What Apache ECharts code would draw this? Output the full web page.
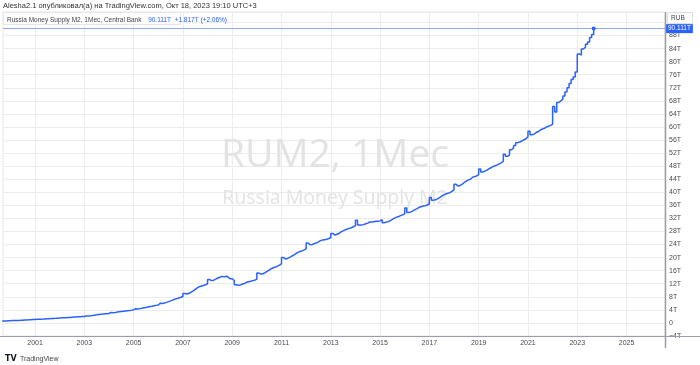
<!DOCTYPE html>
<html><head><meta charset="utf-8">
<script src="https://cdn.jsdelivr.net/npm/echarts@6/dist/echarts.min.js"></script>
<style>html,body{margin:0;padding:0;background:#fff}#c{width:700px;height:365px}</style>
</head><body><div id="c"></div>
<script>
// Russia Money Supply M2, trillion RUB, monthly (1st of month)
const startYear = 1999, startMonth = 8; // Sep 1999 (0-based month index)
const m2_1999 = [0.60, 0.62, 0.64, 0.66];
const m2_2000 = [0.715, 0.71, 0.74, 0.77, 0.80, 0.84, 0.89, 0.93, 0.96, 1.00, 1.03, 1.06];
const m2_2001 = [1.144, 1.12, 1.15, 1.18, 1.22, 1.26, 1.30, 1.34, 1.38, 1.40, 1.43, 1.47];
const m2_2002 = [1.613, 1.58, 1.62, 1.66, 1.70, 1.75, 1.80, 1.85, 1.88, 1.91, 1.95, 1.98];
const m2_2003 = [2.135, 2.11, 2.18, 2.26, 2.37, 2.48, 2.60, 2.67, 2.72, 2.78, 2.84, 2.90];
const m2_2004 = [3.213, 3.15, 3.23, 3.32, 3.42, 3.52, 3.60, 3.68, 3.75, 3.82, 3.90, 4.00];
const m2_2005 = [4.354, 4.28, 4.38, 4.48, 4.62, 4.75, 4.88, 5.00, 5.12, 5.25, 5.38, 5.50];
const m2_2006 = [6.045, 5.95, 6.10, 6.30, 6.52, 6.75, 7.00, 7.25, 7.45, 7.65, 7.85, 8.10];
const m2_2007 = [8.996, 8.85, 9.10, 9.40, 9.80, 10.30, 10.75, 11.10, 11.30, 11.45, 11.70, 12.00];
const m2_2008 = [13.272, 12.95, 13.10, 13.40, 13.75, 14.00, 14.25, 14.10, 14.30, 14.05, 13.50, 13.55];
const m2_2009 = [12.976, 11.70, 11.55, 11.65, 11.90, 12.10, 12.45, 12.60, 12.75, 12.95, 13.10, 13.40];
const m2_2010 = [15.268, 14.95, 15.05, 15.40, 15.80, 16.15, 16.60, 16.90, 17.10, 17.40, 17.70, 18.10];
const m2_2011 = [20.012, 19.60, 19.75, 20.10, 20.45, 20.80, 21.25, 21.60, 21.90, 22.05, 22.35, 22.70];
const m2_2012 = [24.483, 23.90, 24.00, 24.30, 24.50, 24.80, 25.20, 25.40, 25.50, 25.60, 25.85, 26.10];
const m2_2013 = [27.405, 26.90, 27.15, 27.40, 27.90, 28.20, 28.50, 28.75, 28.95, 29.15, 29.45, 29.80];
const m2_2014 = [31.405, 30.00, 29.95, 30.10, 30.35, 30.55, 30.90, 30.90, 31.00, 31.10, 31.10, 31.25];
const m2_2015 = [31.616, 30.65, 30.90, 31.00, 31.35, 31.70, 32.10, 32.40, 32.60, 32.85, 33.10, 33.50];
const m2_2016 = [35.179, 33.80, 34.00, 34.30, 34.70, 35.00, 35.40, 35.60, 35.80, 35.90, 36.10, 36.40];
const m2_2017 = [38.418, 37.60, 37.70, 38.00, 38.40, 38.80, 39.20, 39.50, 39.70, 39.90, 40.30, 40.80];
const m2_2018 = [42.442, 41.90, 42.10, 42.50, 43.00, 43.40, 43.80, 44.00, 44.60, 44.80, 45.00, 45.40];
const m2_2019 = [47.109, 46.20, 46.50, 46.80, 47.20, 47.50, 47.90, 48.10, 48.40, 48.70, 49.00, 49.50];
const m2_2020 = [51.660, 51.00, 51.40, 53.00, 53.60, 54.30, 55.20, 55.40, 55.70, 56.10, 56.40, 57.00];
const m2_2021 = [58.652, 57.60, 57.80, 58.30, 58.60, 59.00, 59.40, 59.60, 60.00, 60.20, 60.50, 60.80];
const m2_2022 = [66.253, 64.60, 67.50, 68.00, 68.50, 69.50, 70.70, 72.00, 73.30, 74.50, 75.30, 76.80];
const m2_2023 = [82.361, 82.00, 83.90, 84.40, 85.30, 86.00, 87.40, 88.294, 90.111];
const yearTicks = [2001, 2003, 2005, 2007, 2009, 2011, 2013, 2015, 2017, 2019, 2021, 2023, 2025];
const lastValue = 90.111, lastChange = 1.817, lastChangePct = 2.06;

const allYears = [m2_1999, m2_2000, m2_2001, m2_2002, m2_2003, m2_2004, m2_2005, m2_2006, m2_2007,
  m2_2008, m2_2009, m2_2010, m2_2011, m2_2012, m2_2013, m2_2014, m2_2015, m2_2016, m2_2017,
  m2_2018, m2_2019, m2_2020, m2_2021, m2_2022, m2_2023];
const data = [];
allYears.forEach((arr, yi) => {
  const y = startYear + yi;
  const m0 = yi === 0 ? startMonth : 0;
  arr.forEach((v, i) => data.push([y + (m0 + i) / 12, v]));
});
const last = data[data.length - 1];
data[data.length - 1] = { value: last, symbol: 'circle', symbolSize: 4 };

const small = '"Liberation Sans", Arial, sans-serif';
const chart = echarts.init(document.getElementById('c'), null, { renderer: 'canvas' });
chart.setOption({
  animation: false,
  backgroundColor: '#fff',
  grid: { left: 3, right: 35, top: 12, bottom: 29, show: true, borderColor: '#e6e6e6', borderWidth: 1 },
  xAxis: {
    type: 'value', min: 1999.70, max: 2026.56,
    axisLine: { show: false },
    axisTick: { show: false, customValues: yearTicks },
    axisLabel: { customValues: yearTicks, formatter: v => String(Math.round(v)), fontSize: 7, color: '#4a4a4a', margin: 4, fontFamily: small },
    splitLine: { show: true, lineStyle: { color: '#ececec', width: 1 } }
  },
  yAxis: {
    type: 'value', position: 'right', min: -4, max: 95.2, interval: 4,
    axisLine: { show: false },
    axisTick: { show: false },
    axisLabel: {
      showMaxLabel: false, fontSize: 7, color: '#4a4a4a', margin: 4, fontFamily: small,
      formatter: v => v === 0 ? '0' : (v < 0 ? '\u2212' + Math.abs(v) : v) + 'T'
    },
    splitLine: { show: true, lineStyle: { color: '#ececec', width: 1 } }
  },
  graphic: [
    { type: 'text', z: 1, x: 335, y: 136, style: { text: 'RUM2, 1Мес', align: 'center', fill: '#e3e3e3', font: '39px "Open Sans", sans-serif' } },
    { type: 'text', z: 1, x: 335, y: 188, style: { text: 'Russia Money Supply M2', align: 'center', fill: '#e3e3e3', font: '19.5px "Open Sans", sans-serif' } },
    { type: 'text', z: 10, left: 3, top: 2, style: { text: 'Alesha2.1 опубликовал(а) на TradingView.com, Окт 18, 2023 19:10 UTC+3', fill: '#333', font: '7.5px ' + small } },
    { type: 'rect', z: 10, shape: { x: 3.5, y: 12.5, width: 177, height: 12 }, style: { fill: '#fff', stroke: '#e6e6e6', lineWidth: 1 } },
    { type: 'text', z: 11, left: 7, top: 14.5, style: {
        text: '{a|Russia Money Supply M2, 1Мес, Central Bank}  {b|' + lastValue.toFixed(3) + 'T  +' + lastChange.toFixed(3) + 'T (+' + lastChangePct.toFixed(2) + '%)}',
        rich: { a: { fill: '#444', font: '6.5px ' + small }, b: { fill: '#2962ff', font: '6.5px ' + small } } } },
    { type: 'rect', z: 10, shape: { x: 667.5, y: 12.5, width: 25, height: 11 }, style: { fill: '#fff', stroke: '#e0e0e0', lineWidth: 1 } },
    { type: 'text', z: 11, left: 671, top: 15, style: { text: 'RUB', fill: '#444', font: '6.5px ' + small } },
    { type: 'line', z: 12, shape: { x1: 665.5, y1: 12, x2: 665.5, y2: 348 }, style: { stroke: '#9a9da5', lineWidth: 1.5 } },
    { type: 'line', z: 12, shape: { x1: 0, y1: 336.5, x2: 700, y2: 336.5 }, style: { stroke: '#9a9da5', lineWidth: 1 } },
    { type: 'text', z: 11, left: 5, top: 353, style: {
        text: '{l|TV} {t|TradingView}',
        rich: { l: { fill: '#131722', font: 'bold 8px "DejaVu Sans", sans-serif' }, t: { fill: '#444', font: '7px ' + small } } } }
  ],
  series: [{
    type: 'line', step: 'end', data: data, symbol: 'none', showSymbol: true,
    itemStyle: { color: '#2962ff' },
    lineStyle: { color: '#2962ff', width: 1.5 },
    z: 5,
    markLine: {
      silent: true, symbol: 'none',
      data: [{ yAxis: lastValue }],
      lineStyle: { color: '#8fa9ff', width: 1, type: 'solid' },
      label: {
        show: true, position: 'end', distance: 1,
        formatter: lastValue.toFixed(3) + 'T',
        backgroundColor: '#2962ff', color: '#fff', fontSize: 6.5, padding: [1, 2, 1, 2], fontFamily: small
      }
    }
  }]
});
</script></body></html>
